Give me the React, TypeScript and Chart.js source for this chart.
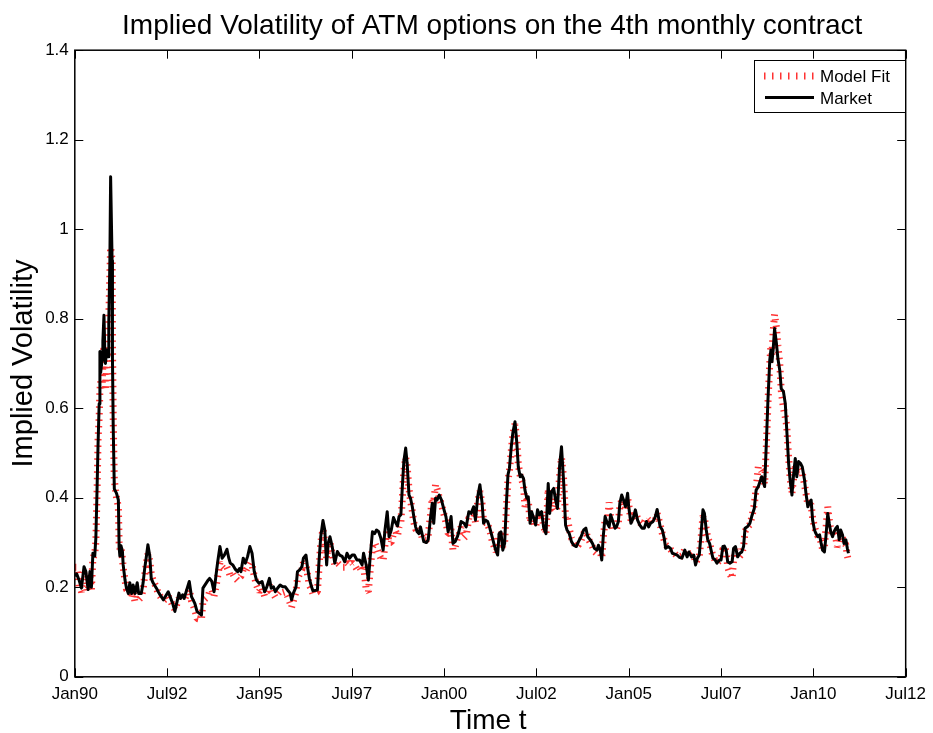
import React, { useEffect, useRef } from 'react';
import { Chart, registerables } from 'chart.js';

Chart.register(...registerables);

// time in years since Jan 1990
const dates = [
  0.00, 0.05, 0.12, 0.18, 0.25, 0.30, 0.36, 0.41, 0.45, 0.49, 0.54, 0.57, 0.60, 0.63, 0.66, 0.68, 0.70, 0.74, 0.76, 0.79,
  0.81, 0.83, 0.86, 0.90, 0.92, 0.95, 0.97, 1.01, 1.02, 1.04, 1.07, 1.13, 1.18, 1.20, 1.22, 1.25, 1.29, 1.31, 1.36, 1.40,
  1.45, 1.49, 1.54, 1.58, 1.63, 1.69, 1.73, 1.80, 1.85, 1.89, 1.94, 1.98, 2.03, 2.07, 2.12, 2.21, 2.26,
  2.31, 2.40, 2.53, 2.65, 2.71, 2.82, 2.86, 2.92, 2.96, 3.10, 3.16, 3.25, 3.31, 3.43, 3.47, 3.61, 3.65, 3.71, 3.77, 3.83,
  3.87, 3.93, 3.99, 4.05, 4.12, 4.17, 4.21, 4.28, 4.35, 4.41, 4.46, 4.50, 4.56, 4.62, 4.68, 4.74, 4.80, 4.86, 4.92, 4.99,
  5.07, 5.14, 5.20, 5.27, 5.32, 5.38, 5.43, 5.49, 5.56, 5.63, 5.70, 5.76, 5.83, 5.87, 5.92, 5.99, 6.03, 6.09, 6.15, 6.19,
  6.26, 6.30, 6.35, 6.41, 6.45, 6.57, 6.61, 6.66, 6.72, 6.77, 6.82, 6.86, 6.91, 6.97, 7.04, 7.11, 7.17, 7.24, 7.31, 7.37,
  7.44, 7.51, 7.57, 7.64,
  7.71, 7.78, 7.82, 7.89, 7.95, 8.00, 8.06, 8.12, 8.17, 8.23, 8.29, 8.35, 8.40, 8.46, 8.51, 8.57, 8.63, 8.69, 8.74, 8.78,
  8.83, 8.87, 8.91, 8.96, 9.00, 9.05, 9.09, 9.14, 9.18, 9.23, 9.27, 9.32, 9.36, 9.41, 9.45, 9.52, 9.57, 9.63, 9.68, 9.72,
  9.77, 9.81, 9.87, 9.93, 9.99, 10.05, 10.11, 10.15, 10.19, 10.24, 10.30, 10.36,
  10.40, 10.46, 10.54, 10.60, 10.67, 10.73, 10.80, 10.85, 10.91, 10.97, 11.03, 11.07, 11.12, 11.18, 11.23, 11.30, 11.36,
  11.40, 11.45, 11.49, 11.54, 11.59, 11.64, 11.69, 11.73, 11.77, 11.82, 11.86, 11.92, 11.97, 12.01, 12.06, 12.10, 12.15,
  12.19, 12.24, 12.28, 12.33, 12.37, 12.43, 12.48, 12.53, 12.58, 12.64, 12.70, 12.76, 12.82, 12.86, 12.91, 12.97, 13.01,
  13.07, 13.13, 13.18,
  13.24, 13.29, 13.33, 13.39, 13.45, 13.51, 13.58, 13.64, 13.71, 13.78, 13.84, 13.89, 13.96, 14.02, 14.07, 14.14, 14.18,
  14.23, 14.27, 14.31, 14.36, 14.42, 14.47, 14.51, 14.57, 14.63, 14.67, 14.72, 14.76, 14.81, 14.86, 14.91, 14.97, 15.00,
  15.06, 15.12, 15.18, 15.24, 15.30, 15.36, 15.42, 15.48, 15.54, 15.59, 15.66, 15.72, 15.77,
  15.85, 15.91, 15.96, 16.00, 16.07, 16.13, 16.18, 16.25, 16.31, 16.37, 16.44, 16.52, 16.58, 16.63, 16.70, 16.76, 16.81,
  16.86, 16.91, 16.96, 17.01, 17.05, 17.10, 17.14, 17.19, 17.23, 17.28, 17.34, 17.39, 17.46, 17.50, 17.55, 17.59, 17.64,
  17.68, 17.74, 17.80, 17.84, 17.89, 17.95, 18.01, 18.06, 18.11, 18.15, 18.22, 18.28, 18.33, 18.40, 18.45,
  18.51, 18.60, 18.64, 18.68, 18.73, 18.77, 18.82, 18.85, 18.88, 18.91, 18.95, 19.00, 19.04, 19.09, 19.13, 19.19, 19.24,
  19.28, 19.33, 19.37, 19.42, 19.46, 19.51, 19.55, 19.60, 19.65, 19.70, 19.76, 19.80, 19.85, 19.89, 19.94, 19.98, 20.03,
  20.07, 20.12, 20.17, 20.21, 20.25, 20.30, 20.34, 20.39, 20.43, 20.47, 20.52, 20.56, 20.61, 20.65, 20.70, 20.74, 20.79,
  20.83, 20.88, 20.92, 20.95,
];

const market = [
  0.225, 0.230, 0.215, 0.198, 0.246, 0.235, 0.195, 0.235, 0.200, 0.276, 0.270, 0.310, 0.410, 0.520, 0.610, 0.727, 0.680, 0.708, 0.750, 0.808,
  0.737, 0.700, 0.730, 0.715, 0.790, 0.930, 1.117, 0.930, 0.710, 0.560, 0.420, 0.410, 0.395, 0.290, 0.270, 0.293, 0.280, 0.250, 0.216, 0.198,
  0.186, 0.210, 0.186, 0.205, 0.186, 0.210, 0.186, 0.186, 0.210, 0.240, 0.270, 0.295, 0.270, 0.220, 0.210, 0.198, 0.190,
  0.183, 0.172, 0.190, 0.164, 0.146, 0.187, 0.175, 0.183, 0.175, 0.213, 0.179, 0.164, 0.146, 0.138, 0.198, 0.216, 0.220, 0.213, 0.190, 0.231,
  0.257, 0.291, 0.265, 0.272, 0.285, 0.265, 0.254, 0.250, 0.240, 0.235, 0.242, 0.235, 0.265, 0.254, 0.269, 0.291, 0.276, 0.235, 0.216, 0.209,
  0.213, 0.190, 0.201, 0.220, 0.198, 0.201, 0.190, 0.198, 0.205, 0.201, 0.201, 0.194, 0.187, 0.172, 0.187, 0.201, 0.235, 0.239, 0.246, 0.265,
  0.272, 0.246, 0.220, 0.201, 0.192, 0.194, 0.254, 0.313, 0.349, 0.328, 0.250, 0.298, 0.313, 0.291, 0.254, 0.280, 0.272, 0.269, 0.257, 0.276,
  0.265, 0.272, 0.272, 0.261,
  0.261, 0.250, 0.276, 0.250, 0.216, 0.269, 0.324, 0.320, 0.328, 0.324, 0.309, 0.283, 0.328, 0.369, 0.313, 0.328, 0.356, 0.344, 0.337, 0.358,
  0.362, 0.425, 0.481, 0.511, 0.477, 0.406, 0.399, 0.380, 0.358, 0.335, 0.324, 0.320, 0.335, 0.317, 0.302, 0.300, 0.306, 0.354, 0.388, 0.343,
  0.399, 0.395, 0.406, 0.395, 0.376, 0.358, 0.324, 0.339, 0.358, 0.298, 0.302, 0.313,
  0.324, 0.347, 0.343, 0.335, 0.369, 0.365, 0.380, 0.350, 0.402, 0.429, 0.388, 0.343, 0.350, 0.347, 0.335, 0.313, 0.294,
  0.283, 0.272, 0.320, 0.324, 0.283, 0.298, 0.391, 0.451, 0.466, 0.514, 0.544, 0.570, 0.522, 0.469, 0.447, 0.451, 0.443,
  0.417, 0.399, 0.402, 0.343, 0.369, 0.354, 0.339, 0.373, 0.362, 0.369, 0.332, 0.320, 0.432, 0.365, 0.414, 0.421, 0.399,
  0.376, 0.473, 0.514,
  0.432, 0.339, 0.328, 0.320, 0.302, 0.294, 0.291, 0.302, 0.313, 0.328, 0.332, 0.313, 0.306, 0.298, 0.287, 0.283, 0.294,
  0.283, 0.261, 0.313, 0.358, 0.343, 0.335, 0.362, 0.347, 0.332, 0.335, 0.347, 0.388, 0.406, 0.395, 0.380, 0.410, 0.380,
  0.343, 0.354, 0.373, 0.350, 0.339, 0.332, 0.332, 0.347, 0.335, 0.343, 0.347, 0.358, 0.374,
  0.336, 0.328, 0.310, 0.287, 0.291, 0.287, 0.276, 0.274, 0.272, 0.267, 0.265, 0.283, 0.268, 0.279, 0.268, 0.272, 0.250,
  0.265, 0.272, 0.320, 0.373, 0.365, 0.328, 0.306, 0.298, 0.283, 0.265, 0.261, 0.254, 0.261, 0.261, 0.291, 0.292, 0.283,
  0.257, 0.254, 0.257, 0.287, 0.291, 0.268, 0.276, 0.279, 0.291, 0.332, 0.336, 0.343, 0.358, 0.376, 0.417,
  0.425, 0.447, 0.436, 0.425, 0.529, 0.618, 0.708, 0.730, 0.704, 0.730, 0.778, 0.745, 0.711, 0.685, 0.644, 0.637, 0.610,
  0.551, 0.477, 0.440, 0.406, 0.447, 0.488, 0.447, 0.481, 0.477, 0.469, 0.440, 0.410, 0.380, 0.388, 0.395, 0.350, 0.328,
  0.320, 0.313, 0.317, 0.298, 0.283, 0.279, 0.313, 0.365, 0.343, 0.324, 0.313, 0.324, 0.332, 0.336, 0.306, 0.328, 0.317,
  0.298, 0.306, 0.287, 0.276,
];

const modelFit = [
  0.245, 0.245, 0.200, 0.190, 0.235, 0.225, 0.190, 0.225, 0.195, 0.265, 0.275, 0.300, 0.400, 0.530, 0.580, 0.640, 0.660, 0.645, 0.700, 0.740,
  0.700, 0.640, 0.690, 0.720, 0.800, 0.900, 0.960, 0.930, 0.750, 0.580, 0.440, 0.400, 0.380, 0.300, 0.285, 0.290, 0.265, 0.245, 0.215, 0.195,
  0.190, 0.205, 0.175, 0.190, 0.168, 0.180, 0.172, 0.178, 0.195, 0.225, 0.255, 0.275, 0.260, 0.230, 0.215, 0.200, 0.185,
  0.180, 0.170, 0.180, 0.160, 0.150, 0.175, 0.170, 0.178, 0.172, 0.195, 0.170, 0.150, 0.130, 0.128, 0.170, 0.180, 0.190, 0.195, 0.180, 0.205,
  0.225, 0.255, 0.245, 0.240, 0.245, 0.235, 0.225, 0.230, 0.220, 0.215, 0.222, 0.225, 0.240, 0.235, 0.245, 0.255, 0.250, 0.225, 0.205, 0.190,
  0.200, 0.180, 0.190, 0.205, 0.190, 0.185, 0.178, 0.185, 0.192, 0.188, 0.190, 0.180, 0.165, 0.155, 0.170, 0.190, 0.220, 0.230, 0.240, 0.255,
  0.250, 0.230, 0.205, 0.195, 0.185, 0.190, 0.240, 0.300, 0.330, 0.300, 0.265, 0.295, 0.300, 0.275, 0.250, 0.255, 0.250, 0.245, 0.245, 0.255,
  0.250, 0.255, 0.250, 0.240,
  0.245, 0.235, 0.250, 0.195, 0.190, 0.240, 0.290, 0.300, 0.290, 0.275, 0.265, 0.260, 0.295, 0.330, 0.300, 0.300, 0.320, 0.325, 0.315, 0.335,
  0.345, 0.400, 0.460, 0.490, 0.470, 0.420, 0.395, 0.370, 0.345, 0.330, 0.325, 0.320, 0.325, 0.310, 0.305, 0.305, 0.315, 0.360, 0.400, 0.390,
  0.430, 0.420, 0.400, 0.385, 0.365, 0.345, 0.320, 0.320, 0.330, 0.283, 0.290, 0.310,
  0.315, 0.335, 0.310, 0.315, 0.355, 0.360, 0.370, 0.345, 0.390, 0.415, 0.385, 0.345, 0.345, 0.340, 0.330, 0.305, 0.290,
  0.280, 0.285, 0.315, 0.320, 0.290, 0.300, 0.380, 0.440, 0.460, 0.505, 0.540, 0.565, 0.530, 0.475, 0.450, 0.440, 0.430,
  0.380, 0.395, 0.395, 0.345, 0.360, 0.345, 0.335, 0.360, 0.355, 0.365, 0.335, 0.320, 0.420, 0.370, 0.400, 0.375, 0.370,
  0.380, 0.450, 0.490,
  0.440, 0.355, 0.360, 0.330, 0.310, 0.300, 0.290, 0.295, 0.305, 0.320, 0.325, 0.310, 0.300, 0.290, 0.280, 0.275, 0.285,
  0.280, 0.265, 0.310, 0.350, 0.345, 0.390, 0.355, 0.330, 0.330, 0.330, 0.345, 0.380, 0.395, 0.390, 0.375, 0.400, 0.385,
  0.350, 0.355, 0.365, 0.355, 0.345, 0.340, 0.345, 0.355, 0.350, 0.355, 0.345, 0.350, 0.365,
  0.340, 0.320, 0.305, 0.295, 0.290, 0.285, 0.280, 0.275, 0.270, 0.268, 0.270, 0.285, 0.280, 0.275, 0.270, 0.275, 0.255,
  0.262, 0.268, 0.310, 0.360, 0.355, 0.330, 0.310, 0.300, 0.285, 0.270, 0.260, 0.255, 0.260, 0.262, 0.285, 0.290, 0.280,
  0.245, 0.230, 0.220, 0.260, 0.285, 0.265, 0.270, 0.275, 0.290, 0.325, 0.335, 0.340, 0.355, 0.385, 0.420,
  0.470, 0.460, 0.445, 0.430, 0.520, 0.610, 0.700, 0.740, 0.720, 0.770, 0.810, 0.780, 0.740, 0.700, 0.640, 0.600, 0.580,
  0.560, 0.490, 0.445, 0.410, 0.440, 0.470, 0.455, 0.465, 0.460, 0.455, 0.430, 0.410, 0.385, 0.385, 0.385, 0.355, 0.335,
  0.325, 0.315, 0.310, 0.300, 0.285, 0.290, 0.330, 0.380, 0.350, 0.330, 0.315, 0.320, 0.310, 0.290, 0.300, 0.320, 0.310,
  0.300, 0.295, 0.270, 0.260,
];

const xTickPositions = [0, 2.5, 5, 7.5, 10, 12.5, 15, 17.5, 20, 22.5];
const xTickLabels = ['Jan90', 'Jul92', 'Jan95', 'Jul97', 'Jan00', 'Jul02', 'Jan05', 'Jul07', 'Jan10', 'Jul12'];
const yTickValues = [0, 0.2, 0.4, 0.6, 0.8, 1, 1.2, 1.4];
const yTickLabels = ['0', '0.2', '0.4', '0.6', '0.8', '1', '1.2', '1.4'];

const chartTitle = 'Implied Volatility of ATM options on the 4th monthly contract';
const xAxisTitle = 'Time t';
const yAxisTitle = 'Implied Volatility';
const modelName = 'Model Fit';
const marketName = 'Market';

const FONT = '"Liberation Sans", Arial, Helvetica, sans-serif';
const W = 933;
const H = 733;
const AREA = { left: 74.8, right: 908.5, top: 50.2, bottom: 676.8 };
const RED = 'rgba(255,0,0,0.8)';
const RED_DASH_PLOT = [1.5, 5];
const RED_DASH_LEGEND = [1.5, 6.5];

const matlabFrame = {
  id: 'matlabFrame',
  afterDraw(chart: any) {
    const { ctx, chartArea: a, scales } = chart;
    const xs = scales.x;
    const ys = scales.y;
    ctx.save();
    // inward ticks
    const tl = 8.5;
    ctx.strokeStyle = '#000';
    ctx.lineWidth = 1;
    ctx.beginPath();
    xTickPositions.forEach((v) => {
      const px = Math.round(xs.getPixelForValue(v)) + 0.5;
      ctx.moveTo(px, a.bottom);
      ctx.lineTo(px, a.bottom - tl);
      ctx.moveTo(px, a.top);
      ctx.lineTo(px, a.top + tl);
    });
    yTickValues.forEach((v) => {
      const py = Math.round(ys.getPixelForValue(v)) + 0.5;
      ctx.moveTo(a.left, py);
      ctx.lineTo(a.left + tl, py);
      ctx.moveTo(a.right, py);
      ctx.lineTo(a.right - tl, py);
    });
    ctx.stroke();
    // axes box
    ctx.lineWidth = 1.5;
    ctx.strokeRect(a.left, a.top, a.right - a.left, a.bottom - a.top);

    // legend
    const lx = 754.5, ly = 60.5, lw = 151, lh = 52;
    ctx.fillStyle = '#fff';
    ctx.fillRect(lx, ly, lw, lh);
    ctx.lineWidth = 1;
    ctx.strokeStyle = '#000';
    ctx.strokeRect(lx, ly, lw, lh);
    ctx.save();
    ctx.strokeStyle = RED;
    ctx.lineWidth = 7;
    ctx.lineCap = 'butt';
    ctx.setLineDash(RED_DASH_LEGEND);
    ctx.beginPath();
    ctx.moveTo(764, 76);
    ctx.lineTo(815, 76);
    ctx.stroke();
    ctx.restore();
    ctx.strokeStyle = '#000';
    ctx.lineWidth = 3;
    ctx.beginPath();
    ctx.moveTo(765, 97.5);
    ctx.lineTo(814, 97.5);
    ctx.stroke();
    ctx.fillStyle = '#000';
    ctx.font = `17px ${FONT}`;
    ctx.textAlign = 'left';
    ctx.textBaseline = 'alphabetic';
    ctx.fillText(modelName, 820, 82);
    ctx.fillText(marketName, 820, 104);

    // titles
    const cx = (a.left + a.right) / 2;
    const cy = (a.top + a.bottom) / 2;
    ctx.textAlign = 'center';
    ctx.font = `28px ${FONT}`;
    ctx.fillText(chartTitle, cx + 2, 33.5);
    ctx.fillText(xAxisTitle, cx - 2, 729);
    ctx.font = `29px ${FONT}`;
    ctx.translate(32, cy);
    ctx.rotate(-Math.PI / 2);
    ctx.fillText(yAxisTitle, 0, 0);
    ctx.restore();
  },
};

export default function App() {
  const ref = useRef<HTMLCanvasElement | null>(null);

  useEffect(() => {
    if (!ref.current) return;
    const chart = new Chart(ref.current, {
      type: 'line',
      data: {
        datasets: [
          {
            label: marketName,
            data: dates.map((d, i) => ({ x: d, y: market[i] })),
            borderColor: '#000',
            backgroundColor: '#000',
            borderWidth: 3,
            pointRadius: 0,
            tension: 0,
            borderJoinStyle: 'round',
            fill: false,
          },
          {
            label: modelName,
            data: dates.map((d, i) => ({ x: d, y: modelFit[i] })),
            borderColor: RED,
            backgroundColor: RED,
            borderWidth: 7,
            borderDash: RED_DASH_PLOT,
            borderCapStyle: 'butt',
            borderJoinStyle: 'bevel',
            pointRadius: 0,
            tension: 0,
            fill: false,
          },
        ],
      },
      options: {
        responsive: false,
        animation: false,
        devicePixelRatio: 1,
        layout: { padding: { left: 0, top: AREA.top, right: W - AREA.right, bottom: 0 } },
        plugins: {
          legend: { display: false },
          title: { display: false },
          tooltip: { enabled: false },
        },
        scales: {
          x: {
            type: 'linear',
            min: 0,
            max: 22.5,
            grid: { display: false, drawTicks: false },
            border: { display: false },
            afterBuildTicks: (s: any) => {
              s.ticks = xTickPositions.map((v) => ({ value: v }));
            },
            afterFit: (s: any) => {
              s.height = H - AREA.bottom;
            },
            ticks: {
              autoSkip: false,
              maxRotation: 0,
              minRotation: 0,
              padding: 7,
              color: '#000',
              font: { family: FONT, size: 17 },
              callback: (_v: any, i: number) => xTickLabels[i],
            },
          },
          y: {
            type: 'linear',
            min: 0,
            max: 1.4,
            grid: { display: false, drawTicks: false },
            border: { display: false },
            afterBuildTicks: (s: any) => {
              s.ticks = yTickValues.map((v) => ({ value: v }));
            },
            afterFit: (s: any) => {
              s.width = AREA.left;
            },
            ticks: {
              padding: 6,
              color: '#000',
              font: { family: FONT, size: 17 },
              callback: (_v: any, i: number) => yTickLabels[i],
            },
          },
        },
      },
      plugins: [matlabFrame],
    });
    return () => chart.destroy();
  }, []);

  return (
    <div style={{ position: 'absolute', left: 0, top: 0, width: W, height: H, background: '#fff' }}>
      <canvas ref={ref} width={W} height={H} style={{ display: 'block' }} />
    </div>
  );
}
